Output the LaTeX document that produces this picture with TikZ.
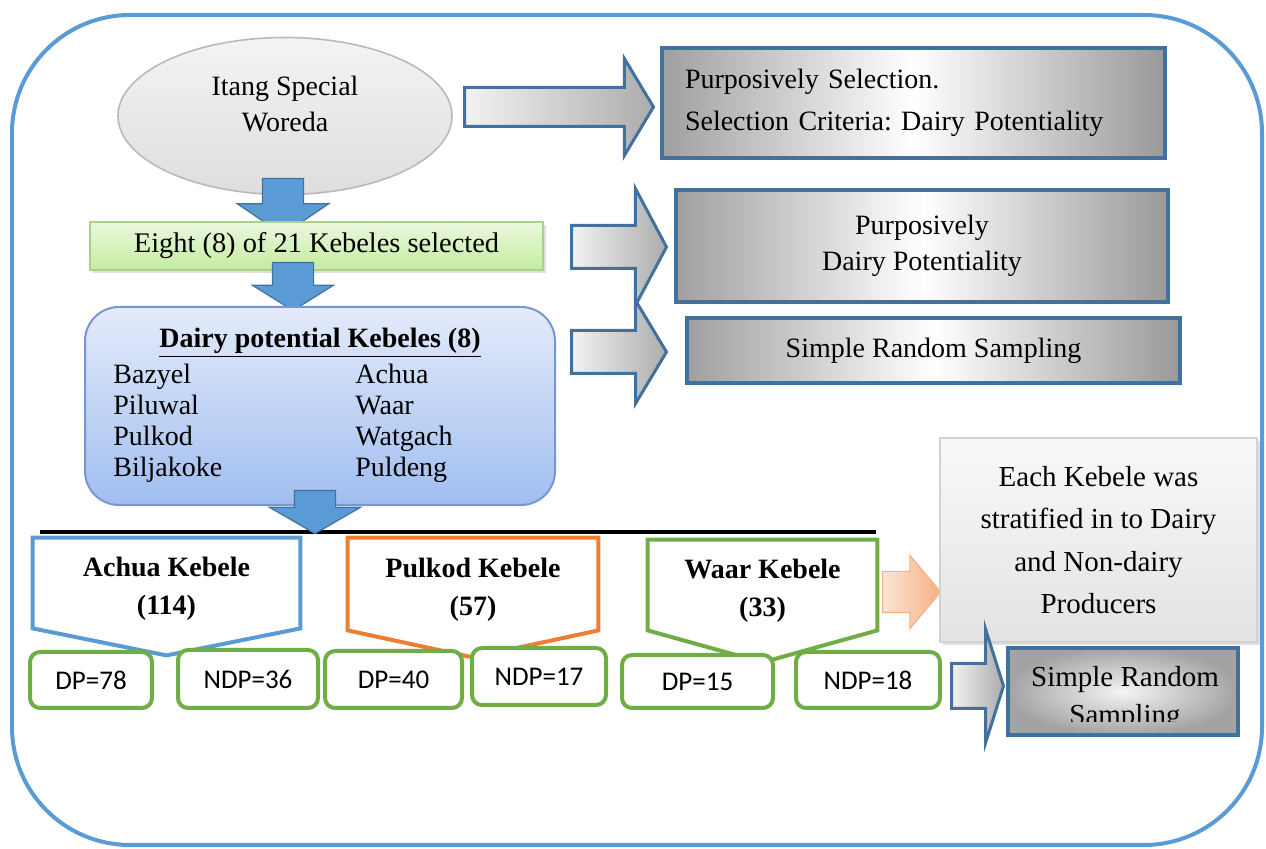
\documentclass[tikz,border=0pt]{standalone}
\usepackage{fontspec}
\setmainfont{Liberation Serif}
\newfontfamily\calfont{Carlito}
\usepackage{xcolor}
\usetikzlibrary{positioning,calc,shapes.geometric,shapes.arrows,shadows}
\definecolor{frameblue}{RGB}{91,155,213}
\definecolor{edgeblue}{RGB}{65,113,156}
\definecolor{korange}{RGB}{237,125,49}
\definecolor{kgreen}{RGB}{112,173,71}
\definecolor{lgreenA}{RGB}{235,248,222}
\definecolor{lgreenB}{RGB}{196,236,160}
\definecolor{lgreenE}{RGB}{169,209,142}
\definecolor{dpkA}{RGB}{228,235,250}
\definecolor{dpkB}{RGB}{160,190,240}
\definecolor{dpkE}{RGB}{120,150,210}
\definecolor{peachA}{RGB}{252,228,214}
\definecolor{peachB}{RGB}{244,177,131}
\tikzset{
  mbox/.style={draw=edgeblue,line width=1.8pt,left color=gray!75,right color=gray!80,middle color=white,align=center,inner sep=0pt,font=\fontsize{14}{18}\selectfont},
  barr/.style={single arrow,anchor=tail,draw=edgeblue,line width=1.5pt,left color=gray!10,right color=gray!65,inner sep=0pt,minimum width=1pt},
  darr/.style={single arrow,anchor=tail,rotate=-90,draw=edgeblue,line width=0.6pt,fill=frameblue,inner sep=0pt,minimum width=1pt},
  kpent/.style={inner sep=0pt,align=center,font=\bfseries\fontsize{14}{19}\selectfont},
  smb/.style={draw=kgreen,line width=2pt,rounded corners=5pt,fill=white,inner sep=0pt,font=\calfont\fontsize{13.5}{16}\selectfont},
  shd/.style={drop shadow={shadow xshift=1.5pt,shadow yshift=-1.5pt,opacity=0.25}},
}
\frenchspacing

\begin{document}
\begin{tikzpicture}[x=0.5pt,y=-0.5pt]
  \useasboundingbox (0,0) rectangle (1266,849);
  \draw[frameblue,line width=2pt,rounded corners=59pt] (12,15) rectangle (1262,845);
  % woreda
  \node[ellipse,draw=gray!55,line width=0.8pt,top color=gray!9,bottom color=gray!26,minimum width=167pt,minimum height=78.5pt,inner sep=0pt] (wor) at (285,116) {};
  \node[align=center,font=\fontsize{14}{18}\selectfont] (worT) at (285,104) {Itang Special\\Woreda};
  \node[barr,minimum height=94.5pt,inner ysep=9pt,single arrow head extend=14.5pt,single arrow tip angle=118] (arA) at (463,107) {};
  \node[mbox,minimum width=251.5pt,minimum height=55pt,text width=228.5pt,align=left,font=\fontsize{14}{21}\selectfont] (selA) at (913.5,103) {Purposively Selection.\\Selection Criteria: Dairy Potentiality};
  \node[darr,minimum height=28pt,inner ysep=10pt,single arrow head extend=12.5pt,single arrow tip angle=112] (dnA) at (283,178) {};
  % kebeles
  \node[shd,draw=lgreenE,line width=0.8pt,top color=lgreenA,bottom color=lgreenB,minimum width=226.5pt,minimum height=24pt,inner sep=0pt,font=\fontsize{14.2}{17}\selectfont] (sel8) at (316.5,246) {Eight (8) of 21 Kebeles selected};
  \node[darr,minimum height=24pt,inner ysep=10pt,single arrow head extend=10pt,single arrow tip angle=116] (dnB) at (293,262) {};
  \node[barr,minimum height=47.5pt,inner ysep=10pt,single arrow head extend=18.5pt,single arrow tip angle=124] (arB) at (570,247) {};
  \node[mbox,minimum width=246pt,minimum height=56pt] (selB) at (922,246) {Purposively\\Dairy Potentiality};
  % dairy potential list
  \node[draw=dpkE,line width=1pt,rounded corners=17pt,top color=dpkA,bottom color=dpkB,minimum width=235pt,minimum height=99pt,inner sep=0pt] (dpk) at (320,406) {};
  \node[font=\bfseries\fontsize{14}{17}\selectfont] (dpkT) at (320,343) {\underline{Dairy potential Kebeles (8)}};
  \node[anchor=north west,inner sep=0pt,font=\fontsize{14}{15.5}\selectfont] (dpkL) at (113,361) {%
    \begin{tabular}{@{}p{121pt}@{}l@{}}
      Bazyel & Achua\\ Piluwal & Waar\\ Pulkod & Watgach\\ Biljakoke & Puldeng
    \end{tabular}};
  \node[barr,minimum height=47.5pt,inner ysep=10pt,single arrow head extend=15pt,single arrow tip angle=118] (arC) at (570,352) {};
  \node[mbox,minimum width=246.5pt,minimum height=32.5pt] (srs) at (933.5,350.5) {Simple Random Sampling};
  % split into three kebeles
  \coordinate (barL) at (40,532); \coordinate (barR) at (876,532);
  \draw[line width=2pt] (barL) -- (barR);
  \node[darr,minimum height=21.5pt,inner ysep=10pt,single arrow head extend=12.5pt,single arrow tip angle=120] (dnC) at (315,490) {};
  \foreach \n/\x/\y/\w/\h/\c/\d/\t in {ach/166.5/583/133.5/45/frameblue/27/{Achua Kebele\\(114)},
      pul/473/584/125/46/korange/27/{Pulkod Kebele\\(57)}, waa/762.5/585/114.5/45/kgreen/32/{Waar Kebele\\(33)}} {
    \node[inner sep=0pt,minimum width=\w pt,minimum height=\h pt] (\n) at (\x,\y) {};
    \draw[\c,line width=2pt] (\n.north west) -- (\n.north east) -- (\n.south east) -- ($(\n.south)+(0,\d)$) -- (\n.south west) -- cycle;
    \node[kpent] (\n T) at ($(\n)+(0,6)$) {\t};
  }
  \foreach \n/\x/\y/\w/\h/\t in {dpA/91/680/61/28/DP=78, ndpA/248/679/70/29/NDP=36, dpB/393.5/679.5/68.5/28.5/DP=40,
      ndpB/539/676.5/67/28.5/NDP=17, dpC/697.5/681.5/75.5/26.5/DP=15, ndpC/868/680/72/28/NDP=18}
    \node[smb,minimum width=\w pt,minimum height=\h pt] (\n) at (\x,\y) {\t};
  % stratification
  \node[single arrow,anchor=tail,draw=peachB,line width=0.6pt,left color=peachA,right color=peachB,inner sep=0pt,inner ysep=10pt,minimum width=1pt,minimum height=29pt,single arrow head extend=8pt,single arrow tip angle=100] (arD) at (882,592) {};
  \node[shd,draw=gray!35,line width=0.6pt,top color=gray!5,bottom color=gray!22,minimum width=158.5pt,minimum height=102pt,inner sep=0pt,align=center,font=\fontsize{14.5}{21.25}\selectfont] (strat) at (1098.5,540) {Each Kebele was\\stratified in to Dairy\\and Non-dairy\\Producers};
  \node[barr,minimum height=26pt,inner ysep=10.5pt,single arrow head extend=17pt,single arrow tip angle=145] (arE) at (950,686) {};
  \node[draw=edgeblue,line width=2pt,inner color=gray!8,outer color=gray!72,minimum width=115pt,minimum height=43.5pt,inner sep=0pt] (srsB) at (1123,691.5) {};
  \begin{scope}
    \clip (1010,650) rectangle (1236,722);
    \node[align=center,font=\fontsize{14.5}{19}\selectfont] (srsBT) at (1125,699) {Simple Random\\Sampling};
  \end{scope}
\end{tikzpicture}
\end{document}
